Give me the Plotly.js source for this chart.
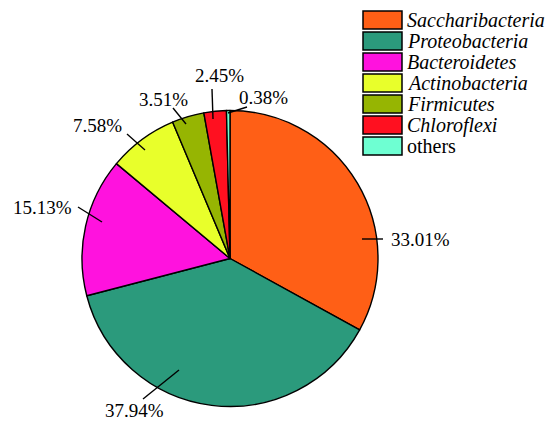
<!DOCTYPE html>
<html>
<head>
<meta charset="utf-8">
<script src="https://cdn.plot.ly/plotly-3.0.1.min.js"></script>
<style>html,body{margin:0;padding:0;background:#fff;}#chart{width:546px;height:421px;}</style>
</head>
<body>
<div id="chart"></div>
<script>
var categories = ["Saccharibacteria","Proteobacteria","Bacteroidetes","Actinobacteria","Firmicutes","Chloroflexi","others"];
var values = [33.01, 37.94, 15.13, 7.58, 3.51, 2.45, 0.38];
var colors = ["#FF5F16","#2B9A7C","#FF12DE","#E8FF2B","#96B502","#FF1020","#6EFFD2"];
var italicNames = [true, true, true, true, true, true, false];

var W = 546, H = 421;
function px(x){ return x / W; }
function py(y){ return 1 - y / H; }

// label placement (pixel positions): text center, and leader line endpoints
var labelPos = [
  {tx: 420, ty: 239, x0: 362, y0: 239, x1: 383, y1: 239},
  {tx: 134, ty: 410, x0: 143, y0: 399, x1: 179, y1: 370},
  {tx: 42,  ty: 207, x0: 78,  y0: 207, x1: 102, y1: 222},
  {tx: 97,  ty: 125, x0: 127, y0: 134, x1: 145, y1: 150},
  {tx: 163, ty: 99,  x0: 173, y0: 108, x1: 186, y1: 124},
  {tx: 219, ty: 75,  x0: 212, y0: 89,  x1: 213, y1: 119},
  {tx: 263, ty: 97,  x0: 247, y0: 107, x1: 228, y1: 113}
];

var cx = 230, cy = 258.5, R = 148;

var shapes = [];
var annotations = [];
var font = "Liberation Serif";

values.forEach(function(v, i){
  var p = labelPos[i];
  shapes.push({type:'line', xref:'paper', yref:'paper',
    x0: px(p.x0), y0: py(p.y0), x1: px(p.x1), y1: py(p.y1),
    line:{color:'#000', width:1.4}});
  annotations.push({xref:'paper', yref:'paper', x: px(p.tx), y: py(p.ty),
    xanchor:'center', yanchor:'middle', showarrow:false,
    text: v.toFixed(2) + '%', font:{family:font, size:19, color:'#000'}});
});

// manual legend
var legX0 = 363, legX1 = 402, legTop = 11, pitch = 21, boxH = 18;
categories.forEach(function(c, i){
  var t = legTop + i * pitch;
  shapes.push({type:'rect', xref:'paper', yref:'paper',
    x0: px(legX0), x1: px(legX1), y0: py(t), y1: py(t + boxH),
    fillcolor: colors[i], line:{color:'#000', width:1.5}});
  annotations.push({xref:'paper', yref:'paper', x: px(405), y: py(t + boxH/2),
    xanchor:'left', yanchor:'middle', showarrow:false,
    text: italicNames[i] ? '<i>' + c + '</i>' : c,
    font:{family:font, size:20, color:'#000'}});
});

var data = [{
  type:'pie', labels: categories, values: values, sort:false,
  direction:'clockwise', rotation:0, textinfo:'none', hoverinfo:'label+percent',
  marker:{colors: colors, line:{color:'#000', width:1.4}},
  domain:{x:[px(cx - R), px(cx + R)], y:[py(cy + R), py(cy - R)]},
  showlegend:false
}];

var layout = {
  width: W, height: H,
  margin:{l:0, r:0, t:0, b:0},
  paper_bgcolor:'#fff', plot_bgcolor:'#fff',
  font:{family:font, color:'#000'},
  showlegend:false,
  shapes: shapes,
  annotations: annotations
};

Plotly.newPlot('chart', data, layout, {displayModeBar:false, staticPlot:true});
</script>
</body>
</html>
